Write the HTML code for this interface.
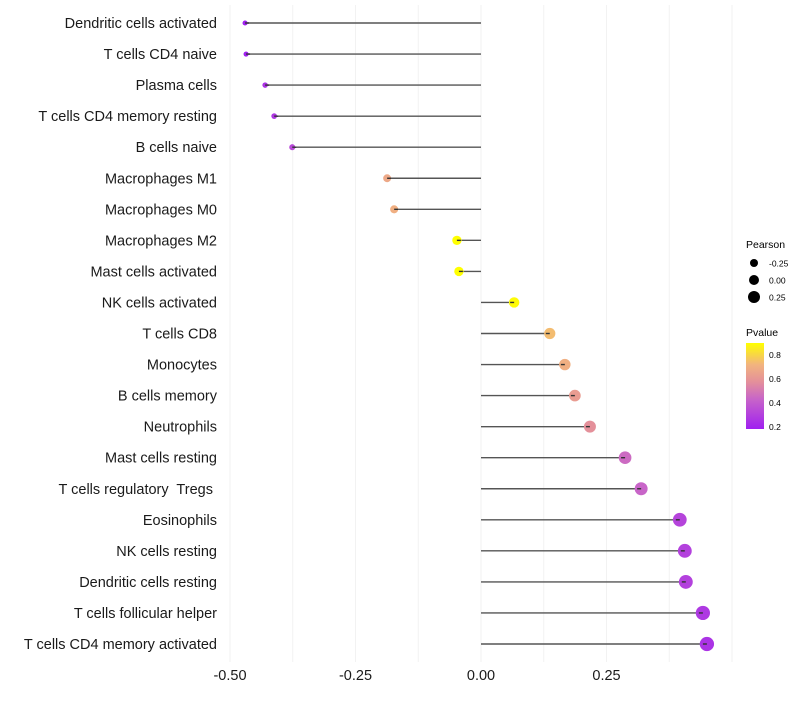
<!DOCTYPE html>
<html><head><meta charset="utf-8"><style>
body{margin:0;background:#fff;font-family:"Liberation Sans",sans-serif;}
svg text{font-family:"Liberation Sans",sans-serif;}
</style></head><body>
<svg id="chart" width="800" height="700" xmlns="http://www.w3.org/2000/svg">
<g id="grid"></g>
<g id="stems"></g>
<g id="points"></g>
<g id="ylabels"></g>
<g id="xlabels"></g>
<g>
<text x="746" y="248" font-size="10.5">Pearson</text>
<circle cx="754" cy="263" r="4" fill="#000"/>
<text x="769" y="266.5" font-size="8.5">-0.25</text>
<circle cx="754" cy="280" r="5" fill="#000"/>
<text x="769" y="283.5" font-size="8.5">0.00</text>
<circle cx="754" cy="297" r="6" fill="#000"/>
<text x="769" y="300.5" font-size="8.5">0.25</text>
</g>
<g>
<defs><linearGradient id="pg" x1="0" y1="1" x2="0" y2="0">
<stop offset="0" stop-color="#a020f0"/><stop offset="0.35" stop-color="#c865c8"/><stop offset="0.55" stop-color="#e4909a"/><stop offset="0.75" stop-color="#f2b47e"/><stop offset="1" stop-color="#ffff00"/></linearGradient></defs>
<text x="746" y="336" font-size="10.5">Pvalue</text>
<rect x="746" y="343" width="18" height="86" fill="url(#pg)"/>
<text x="769" y="358" font-size="8.5">0.8</text>
<text x="769" y="382" font-size="8.5">0.6</text>
<text x="769" y="406" font-size="8.5">0.4</text>
<text x="769" y="430" font-size="8.5">0.2</text>
</g>
</svg>
<script>
const categories=["Dendritic cells activated","T cells CD4 naive","Plasma cells","T cells CD4 memory resting","B cells naive","Macrophages M1","Macrophages M0","Macrophages M2","Mast cells activated","NK cells activated","T cells CD8","Monocytes","B cells memory","Neutrophils","Mast cells resting","T cells regulatory\u00a0 Tregs\u00a0","Eosinophils","NK cells resting","Dendritic cells resting","T cells follicular helper","T cells CD4 memory activated"];
const pearson=[-0.470,-0.468,-0.430,-0.412,-0.376,-0.187,-0.173,-0.048,-0.044,0.066,0.137,0.167,0.187,0.217,0.287,0.319,0.396,0.406,0.408,0.442,0.450];
const pvalue=[0.15,0.15,0.22,0.24,0.3,0.65,0.68,0.88,0.88,0.87,0.72,0.68,0.6,0.55,0.42,0.4,0.28,0.27,0.27,0.24,0.22];
const xTicks=[-0.5,-0.25,0,0.25];
const xTickLabels=["-0.50","-0.25","0.00","0.25"];
const NS="http://www.w3.org/2000/svg";
const xS=v=>481+v*502;
const yS=i=>23+i*31.05;
const stops=[[0.15,[160,32,240]],[0.4,[200,101,200]],[0.55,[228,144,154]],[0.7,[242,180,126]],[0.88,[255,255,0]]];
function col(p){if(p<=stops[0][0])return "rgb("+stops[0][1]+")";for(let i=1;i<stops.length;i++){if(p<=stops[i][0]){const a=stops[i-1],b=stops[i],t=(p-a[0])/(b[0]-a[0]);return "rgb("+a[1].map((c,k)=>Math.round(c+(b[1][k]-c)*t)).join(",")+")";}}return "rgb(255,255,0)";}
function mk(tag,attrs,parent){const e=document.createElementNS(NS,tag);for(const k in attrs)e.setAttribute(k,attrs[k]);parent.appendChild(e);return e;}
const grid=document.getElementById('grid');
for(let v=-0.5;v<=0.5001;v+=0.125){const l=mk('line',{x1:xS(v),x2:xS(v),y1:5,y2:662,stroke:'#f2f2f2','stroke-width':1},grid);

}
const stems=document.getElementById('stems'),pts=document.getElementById('points'),yl=document.getElementById('ylabels'),xl=document.getElementById('xlabels');
categories.forEach((c,i)=>{
const y=yS(i);
const s=mk('line',{x1:xS(0),x2:xS(pearson[i]),y1:y,y2:y,stroke:'#555','stroke-width':1.4},stems);


const p=mk('circle',{cx:xS(pearson[i]),cy:y,r:Math.max(1.8,4.9+5*pearson[i]),fill:col(pvalue[i])},pts);


const d=mk('line',{x1:xS(pearson[i]),x2:xS(pearson[i])+(pearson[i]<0?4:-4),y1:y,y2:y,stroke:'#333','stroke-width':1.4},pts);


const t=mk('text',{x:217,y:y+5,'text-anchor':'end','font-size':14.5,fill:'#1a1a1a'},yl);
t.textContent=c;


});
xTicks.forEach((v,i)=>{const t=mk('text',{x:xS(v),y:680,'text-anchor':'middle','font-size':14.5,fill:'#1a1a1a'},xl);
t.textContent=xTickLabels[i];

});
</script>
</body></html>
